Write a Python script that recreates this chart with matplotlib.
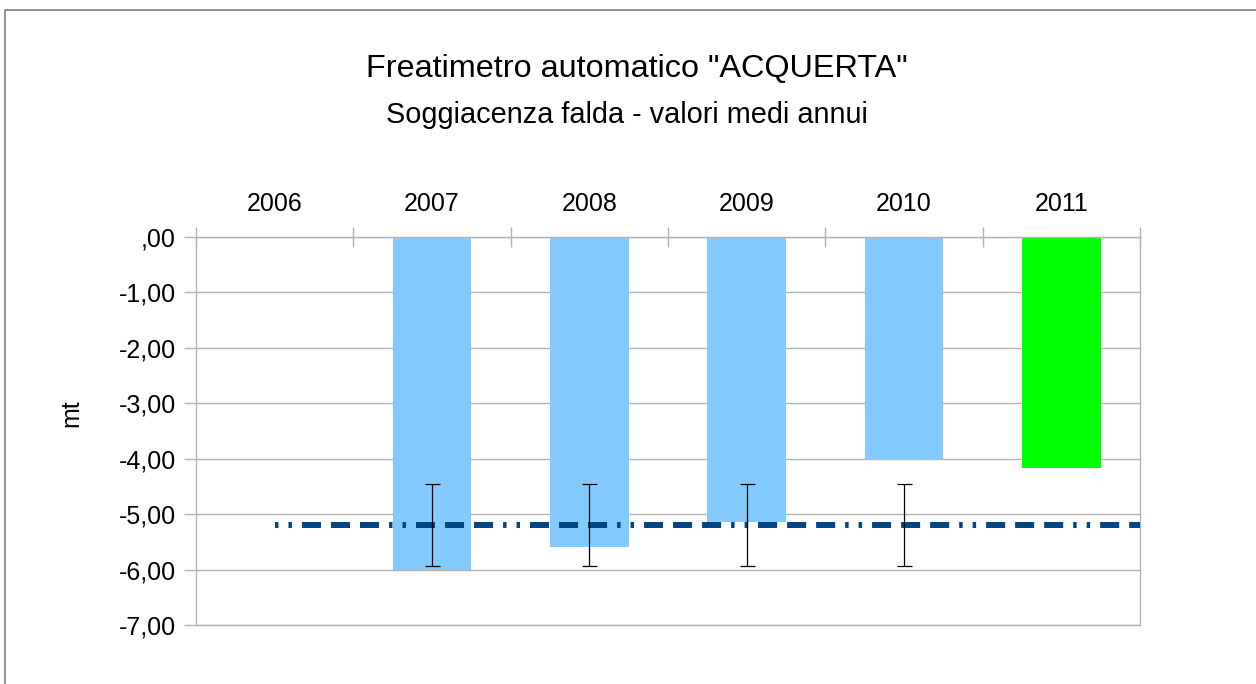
import numpy as np
import matplotlib
matplotlib.use("Agg")
import matplotlib.pyplot as plt
from matplotlib.lines import Line2D
from matplotlib.ticker import FuncFormatter, FixedLocator

plt.rcParams['font.family'] = ['Liberation Sans', 'DejaVu Sans']
plt.rcParams['lines.scale_dashes'] = False

# ---- data ----
anni = ['2006', '2007', '2008', '2009', '2010', '2011']
soggiacenza = [np.nan, -6.00, -5.60, -5.15, -4.03, -4.16]
colori = ['#83CAFF', '#83CAFF', '#83CAFF', '#83CAFF', '#83CAFF', '#00FF00']
media = -5.20
errore = [np.nan, 0.74, 0.74, 0.74, 0.74, np.nan]
yticks = [0, -1, -2, -3, -4, -5, -6, -7]

W, H = 1256, 684
fig = plt.figure(figsize=(W / 100, H / 100), dpi=100)
fig.patch.set_facecolor('white')

# outer frame (only left and top edges visible)
fig.add_artist(Line2D([5 / W, 5 / W, 1.0], [0.0, 1 - 10 / H, 1 - 10 / H],
                      transform=fig.transFigure, color='#7f7f7f', lw=1.2))

L, R, T, B = 196, 1140, 237, 625
ax = fig.add_axes([L / W, 1 - B / H, (R - L) / W, (B - T) / H])

x = np.arange(len(anni))
ax.bar(x, soggiacenza, width=0.5, color=colori, zorder=2)

ln, = ax.plot([x[0], x[-1] + 0.5], [media, media], color='#004586', lw=4.3,
              solid_capstyle='butt', dash_capstyle='butt', zorder=3)
ln.set_dashes((2.5, 7.2, 2.5, 7.2, 13.7, 7.2, 13.7, 7.2, 13.7, 7.2))

ax.errorbar(x, [media] * len(x), yerr=errore, fmt='none', ecolor='black',
            elinewidth=0.9, capsize=5.4, capthick=0.9, zorder=4)

ax.set_xlim(-0.5, len(anni) - 0.5)
ax.set_ylim(-7, 0)
ax.yaxis.set_major_locator(FixedLocator(yticks))

def fmt(v, pos):
    s = f"{v:.2f}".replace('.', ',')
    if s in ('0,00', '-0,00'):
        s = ',00'
    return s
ax.yaxis.set_major_formatter(FuncFormatter(fmt))

ax.xaxis.tick_top()
ax.set_xticks(x)
ax.set_xticklabels(anni)
ax.set_xticks(np.arange(len(anni) + 1) - 0.5, minor=True)
ax.tick_params(axis='x', which='major', length=0, pad=15, labelsize=18)
ax.tick_params(axis='x', which='minor', direction='inout', length=15, color='#b3b3b3', width=1)
ax.tick_params(axis='y', which='major', direction='out', length=8.5, color='#b3b3b3',
               width=1, pad=6, labelsize=18)

ax.grid(axis='y', color='#b3b3b3', lw=1, zorder=0)
ax.set_axisbelow(True)
for s in ax.spines.values():
    s.set_color('#b3b3b3')
    s.set_linewidth(1)

ax.set_ylabel('mt', fontsize=18)
ax.yaxis.set_label_coords(-(L - 83) / (R - L), (B - 413) / (B - T))

fig.text(636.5 / W, 1 - 77 / H, 'Freatimetro automatico "ACQUERTA"', ha='center',
         va='baseline', fontsize=23.3)
fig.text(627 / W, 1 - 123 / H, 'Soggiacenza falda - valori medi annui', ha='center',
         va='baseline', fontsize=20.8)

fig.savefig('out.png', dpi=100, facecolor='white')
